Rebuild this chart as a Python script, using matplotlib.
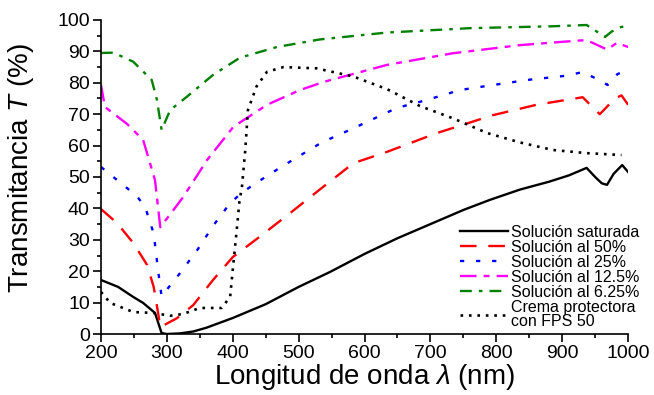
import numpy as np
import matplotlib.pyplot as plt
from matplotlib.ticker import MultipleLocator

plt.rcParams['font.family'] = ['Liberation Sans', 'DejaVu Sans']
plt.rcParams['mathtext.fontset'] = 'custom'
plt.rcParams['mathtext.rm'] = 'Liberation Sans'
plt.rcParams['mathtext.it'] = 'Liberation Sans:italic'

# Solución saturada
sat_x = [200, 226, 249, 264, 282, 287, 292, 300, 320, 340, 360, 400, 450, 500, 547,
         600, 650, 700, 750, 790, 836, 880, 910, 937, 950, 960, 968, 978, 991, 1000]
sat_y = [17.2, 15, 11.8, 9.9, 6.7, 3.5, 0.3, 0, 0.2, 0.8, 2, 5.1, 9.5, 15, 19.7,
         25.5, 30.5, 35, 39.5, 42.7, 46, 48.5, 50.5, 52.9, 50, 48, 47.5, 51, 53.8, 51.6]

# Solución al 50%
s50_x = [200, 224, 249, 270, 280, 286, 290, 315, 340, 370, 400, 441, 487, 532, 583,
         634, 710, 795, 861, 931, 957, 980, 990, 1000]
s50_y = [39.8, 35.4, 29, 22, 15, 7.6, 2.2, 5, 9.2, 17.2, 24.5, 31, 38.5, 46, 54.4,
         58, 64, 69.7, 73, 75.4, 70, 75, 76, 73]

# Solución al 25%
s25_x = [200, 254, 267, 280, 287, 292, 307, 320, 347, 370, 396, 414, 431, 472, 535,
         583, 649, 694, 745, 795, 851, 904, 931, 950, 969, 984, 1000]
s25_y = [53.2, 44, 40.5, 32, 19.7, 12, 16, 19.4, 27, 34.4, 41.7, 45, 47.5, 53, 61,
         65.5, 72, 74.5, 77.7, 79.3, 81, 82.2, 83.4, 81.5, 79.3, 82.8, 84]

# Solución al 12.5%
s12_x = [200, 206, 239, 264, 282, 290, 310, 325, 361, 401, 452, 502, 540, 634, 734,
         836, 922, 937, 968, 983, 1000]
s12_y = [79.3, 72.3, 67, 61.8, 49, 34, 39.5, 43.7, 55.4, 66, 73, 77.7, 80.4, 85.7,
         89.4, 92, 93.4, 93.6, 90.6, 92.7, 91.4]

# Solución al 6.25%
s6_x = [200, 219, 249, 277, 285, 292, 305, 330, 370, 411, 467, 532, 634, 760, 886,
        937, 965, 975, 990, 1000]
s6_y = [89.5, 89.6, 86.7, 80.9, 74.5, 65, 71.3, 75.5, 82.5, 88, 91.4, 93.8, 96,
        97.4, 98, 98.4, 94.6, 96.3, 97.8, 98]

# Crema protectora con FPS 50
fps_x = [200, 214, 249, 280, 305, 325, 350, 383, 396, 401, 406, 410, 414, 419, 423,
         436, 452, 477, 527, 583, 634, 684, 734, 786, 836, 886, 937, 990]
fps_y = [13.4, 9.9, 7, 6.7, 5.8, 6.4, 8.3, 8.3, 11.8, 22.6, 33, 42, 47, 58.6, 71.3,
         78.8, 83.5, 85, 84.6, 82, 78, 72.6, 68.7, 64, 61, 58.6, 57.6, 57]

labels = ['Solución saturada', 'Solución al 50%', 'Solución al 25%',
          'Solución al 12.5%', 'Solución al 6.25%', 'Crema protectora\ncon FPS 50']

fig = plt.figure(figsize=(6.54, 3.95), dpi=100)
ax = fig.add_axes([0.1544, 0.1544, 0.806, 0.795])

ax.plot(sat_x, sat_y, color='black', lw=1.7, label=labels[0])
ax.plot(s50_x, s50_y, color='red', lw=1.7, dashes=(7, 5), label=labels[1])
ax.plot(s25_x, s25_y, color='blue', lw=1.7, dashes=(1.8, 5), label=labels[2])
ax.plot(s12_x, s12_y, color='magenta', lw=1.7, dashes=(7, 3, 2.5, 3), label=labels[3])
ax.plot(s6_x, s6_y, color='green', lw=1.7, dashes=(5, 3, 1.5, 3), label=labels[4])
ax.plot(fps_x, fps_y, color='black', lw=1.9, dashes=(1, 2.2), label=labels[5])

ax.set_xlim(200, 1000)
ax.set_ylim(0, 100)
ax.xaxis.set_major_locator(MultipleLocator(100))
ax.xaxis.set_minor_locator(MultipleLocator(50))
ax.yaxis.set_major_locator(MultipleLocator(10))
ax.yaxis.set_minor_locator(MultipleLocator(5))
ax.tick_params(which='major', direction='out', length=6, width=1.2, labelsize=14, pad=2)
ax.tick_params(which='minor', direction='out', length=3, width=1.2)
for side in ['top', 'right']:
    ax.spines[side].set_visible(False)
for side in ['left', 'bottom']:
    ax.spines[side].set_linewidth(1.2)

ax.set_xlabel(r'Longitud de onda $\lambda$ (nm)', fontsize=20, labelpad=0)
ax.set_ylabel(r'Transmitancia $T$ (%)', fontsize=20)
ax.yaxis.set_label_coords(-0.123, 0.53)

leg = ax.legend(loc='lower right', bbox_to_anchor=(1.04, -0.015), frameon=False,
                fontsize=11.5, handlelength=3.0, handletextpad=0.2, labelspacing=0.0,
                borderaxespad=0.2)
for t in leg.get_texts():
    t.set_linespacing(0.95)

fig.savefig('out.png', dpi=100)
